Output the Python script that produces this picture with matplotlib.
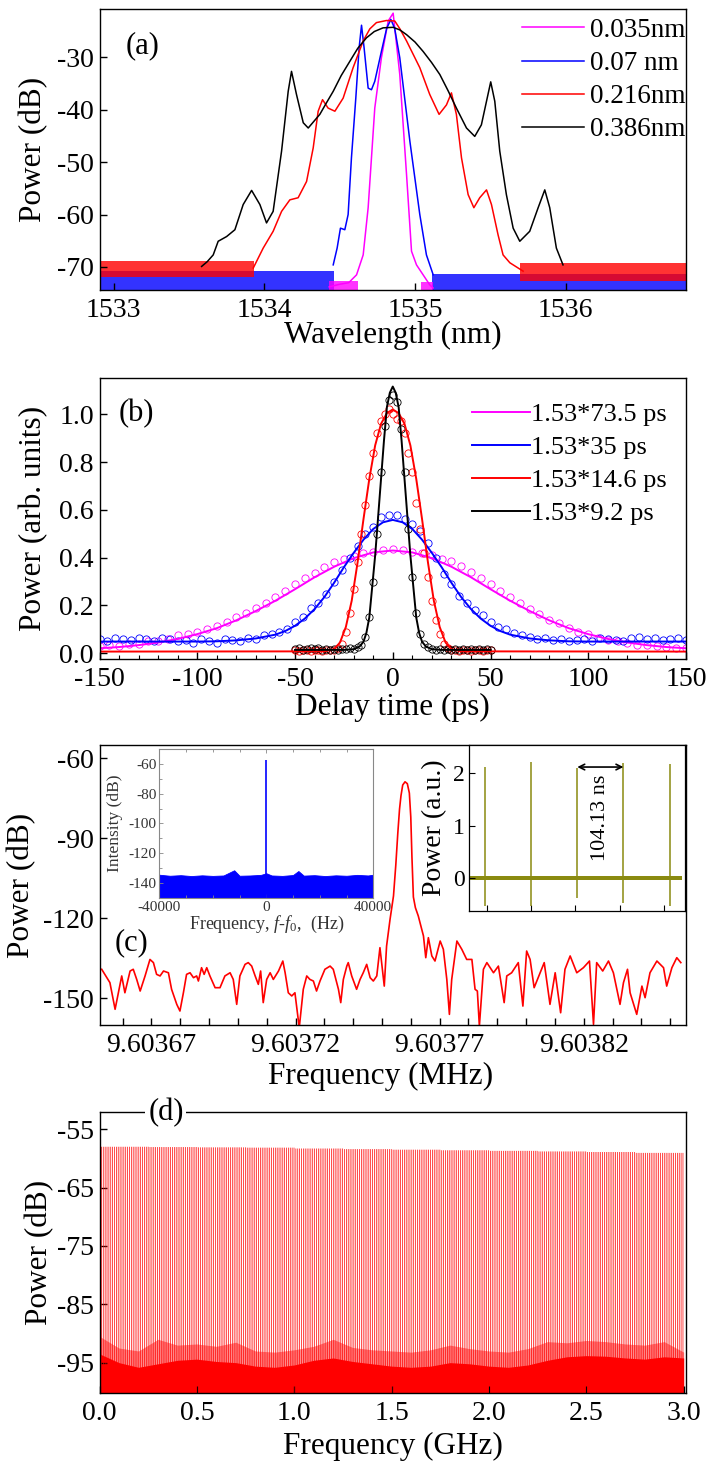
import matplotlib
matplotlib.use("Agg")
import matplotlib.pyplot as plt
import numpy as np
from matplotlib.ticker import FixedLocator, FuncFormatter, MultipleLocator, NullFormatter

plt.rcParams["font.family"] = ["Liberation Serif", "DejaVu Serif"]
plt.rcParams["mathtext.fontset"] = "custom"
plt.rcParams["mathtext.rm"] = "Liberation Serif"
plt.rcParams["mathtext.it"] = "Liberation Serif:italic"
plt.rcParams["axes.linewidth"] = 1.0
plt.rcParams["axes.unicode_minus"] = False

MAG, BLU, RED, BLK, OLIVE = "#ff00ff", "#0000ff", "#ff0000", "#000000", "#8a8a10"

# ---------------- (a) optical spectra ----------------
wl_mag = [1534.43, 1534.50, 1534.56, 1534.612, 1534.656, 1534.689, 1534.733, 1534.777,
          1534.822, 1534.855, 1534.899, 1534.944, 1534.977, 1535.01, 1535.054, 1535.098, 1535.12]
p_mag = [-73.8, -73.3, -73.0, -71.5, -67.7, -58.7, -39.7, -30.1,
         -23.1, -21.6, -33.3, -52.4, -67.0, -69.6, -71.5, -73.4, -74.0]

wl_blue = [1534.457, 1534.483, 1534.505, 1534.534, 1534.556, 1534.578, 1534.607, 1534.629,
           1534.645, 1534.662, 1534.689, 1534.711, 1534.733, 1534.777, 1534.812, 1534.84,
           1534.865, 1534.899, 1534.966, 1535.032, 1535.076, 1535.121]
p_blue = [-69.6, -66.4, -62.6, -62.9, -60.0, -49.2, -37.8, -28.2,
          -23.9, -28.2, -35.9, -36.2, -34.6, -28.9, -24.5, -22.8,
          -24.5, -30.1, -46.0, -60.0, -67.7, -71.5]

wl_red = [1533.926, 1533.992, 1534.058, 1534.114, 1534.169, 1534.224, 1534.28, 1534.324,
          1534.357, 1534.386, 1534.423, 1534.468, 1534.523, 1534.589, 1534.656, 1534.70,
          1534.744, 1534.811, 1534.866, 1534.90, 1534.944, 1535.032, 1535.098, 1535.16,
          1535.209, 1535.242, 1535.275, 1535.309, 1535.353, 1535.391, 1535.43, 1535.475,
          1535.508, 1535.552, 1535.585, 1535.63, 1535.718]
p_red = [-70.2, -66.4, -63.2, -59.4, -57.2, -56.8, -53.7, -47.3,
         -40.3, -38.1, -39.7, -40.3, -37.8, -32.0, -26.9, -24.6,
         -23.4, -23.0, -23.1, -24.6, -26.9, -32.0, -37.1, -40.9,
         -39.1, -36.8, -40.9, -49.2, -56.2, -58.7, -56.8, -55.3,
         -58.1, -63.9, -67.7, -69.2, -70.8]

wl_black = [1533.583, 1533.62, 1533.66, 1533.693, 1533.749, 1533.804, 1533.859, 1533.915,
            1533.97, 1534.014, 1534.058, 1534.114, 1534.158, 1534.18, 1534.213, 1534.258,
            1534.291, 1534.368, 1534.41, 1534.457, 1534.51, 1534.567, 1534.62, 1534.678,
            1534.73, 1534.788, 1534.855, 1534.90, 1534.944, 1535.0, 1535.054, 1535.11,
            1535.165, 1535.22, 1535.275, 1535.342, 1535.397, 1535.441, 1535.475, 1535.503,
            1535.53, 1535.563, 1535.607, 1535.652, 1535.696, 1535.762, 1535.818, 1535.862,
            1535.895, 1535.939, 1535.983]
p_black = [-69.9, -69.0, -67.7, -65.1, -64.2, -62.9, -58.1, -55.4,
           -58.1, -61.6, -59.4, -47.9, -36.5, -32.7, -37.1, -42.5,
           -43.5, -40.9, -38.8, -36.5, -33.5, -30.8, -28.3, -26.3,
           -25.1, -24.4, -24.3, -24.8, -25.7, -27.1, -28.9, -31.0,
           -33.3, -36.4, -39.7, -43.5, -45.1, -42.9, -38.4, -34.7,
           -38.4, -47.9, -56.2, -62.6, -65.1, -63.2, -58.7, -55.3,
           -58.7, -66.4, -69.6]

# noise floors: (start nm, end nm, low dB, high dB)
floor_mag = [(1534.43, 1534.62, -74.4, -72.6), (1535.04, 1535.12, -74.4, -72.8)]
floor_blue = [(1532.905, 1534.46, -74.4, -70.8), (1535.11, 1536.80, -74.4, -71.3)]
floor_red = [(1532.905, 1533.93, -72.0, -68.9), (1535.70, 1536.80, -72.6, -69.2)]

legend_a = ["0.035nm", "0.07 nm", "0.216nm", "0.386nm"]

# ---------------- (b) autocorrelation ----------------
mag_fit_t = [-150, -140, -130, -120, -110, -100, -90, -80, -70, -60, -50, -40, -30, -20, -10, 0,
             10, 20, 30, 40, 50, 60, 70, 80, 90, 100, 110, 120, 130, 140, 150]
mag_fit_v = [0.021, 0.026, 0.034, 0.045, 0.060, 0.080, 0.105, 0.138, 0.177, 0.220, 0.268, 0.318,
             0.362, 0.398, 0.422, 0.430, 0.422, 0.398, 0.362, 0.318, 0.268, 0.220, 0.177, 0.138,
             0.105, 0.080, 0.060, 0.045, 0.034, 0.026, 0.021]
mag_pts = [(-150, .03), (-145, .035), (-140, .03), (-135, .04), (-130, .04), (-125, .05), (-120, .05),
           (-115, .06), (-110, .075), (-105, .08), (-100, .09), (-95, .10), (-90, .115), (-85, .13),
           (-80, .15), (-75, .17), (-70, .19), (-65, .21), (-60, .235), (-55, .26), (-50, .29),
           (-45, .315), (-40, .335), (-35, .36), (-30, .38), (-25, .395), (-20, .405), (-15, .42),
           (-10, .425), (-5, .43), (0, .435), (5, .43), (10, .425), (15, .42), (20, .41), (25, .395),
           (30, .385), (35, .365), (40, .34), (45, .315), (50, .29), (55, .26), (60, .235), (65, .21),
           (70, .185), (75, .165), (80, .14), (85, .125), (90, .105), (95, .09), (100, .08), (105, .065),
           (110, .055), (115, .05), (120, .045), (125, .035), (130, .035), (135, .03), (140, .025),
           (145, .02), (150, .02)]

blue_fit_t = [-150, -120, -100, -90, -80, -70, -60, -55, -50, -45, -40, -35, -30, -25, -20, -15, -10,
              -5, 0, 5, 10, 15, 20, 25, 30, 35, 40, 45, 50, 55, 60, 70, 80, 90, 100, 120, 150]
blue_fit_v = [0.049, 0.049, 0.049, 0.05, 0.054, 0.062, 0.078, 0.093, 0.115, 0.145, 0.185, 0.235,
              0.295, 0.36, 0.42, 0.475, 0.52, 0.548, 0.558, 0.548, 0.52, 0.475, 0.42, 0.36, 0.295,
              0.235, 0.185, 0.145, 0.115, 0.093, 0.078, 0.062, 0.054, 0.05, 0.049, 0.049, 0.049]
blue_pts = [(-150, .06), (-146, .05), (-142, .065), (-138, .06), (-134, .055), (-130, .065), (-126, .06),
            (-122, .05), (-118, .065), (-114, .06), (-110, .05), (-106, .055), (-102, .045), (-98, .06),
            (-94, .05), (-90, .045), (-86, .06), (-82, .055), (-78, .05), (-74, .065), (-70, .06),
            (-66, .075), (-62, .08), (-58, .09), (-54, .10), (-50, .13), (-46, .15), (-42, .19),
            (-38, .21), (-34, .25), (-30, .30), (-26, .35), (-22, .40), (-18, .45), (-14, .50),
            (-10, .53), (-6, .57), (-2, .58), (2, .58), (6, .56), (10, .54), (14, .51), (18, .46),
            (22, .40), (26, .33), (30, .29), (34, .24), (38, .21), (42, .18), (46, .16), (50, .13),
            (54, .11), (58, .10), (62, .085), (66, .075), (70, .07), (74, .06), (78, .065), (82, .055),
            (86, .06), (90, .05), (94, .055), (98, .06), (102, .05), (106, .065), (110, .06),
            (114, .055), (118, .05), (122, .065), (126, .07), (130, .06), (134, .065), (138, .055),
            (142, .06), (146, .065), (150, .055)]

red_fit_t = [-150, -35, -30, -27, -24, -21, -18, -15, -12, -9, -6, -3, 0,
             3, 6, 9, 12, 15, 18, 21, 24, 27, 30, 35, 150]
red_fit_v = [0.007, 0.008, 0.017, 0.045, 0.11, 0.22, 0.38, 0.56, 0.73, 0.87, 0.96, 1.005, 1.02,
             1.005, 0.96, 0.87, 0.73, 0.56, 0.38, 0.22, 0.11, 0.045, 0.017, 0.008, 0.007]
red_pts = [(-50, .012), (-48, .01), (-46, .014), (-44, .012), (-42, .01), (-40, .013), (-38, .012),
           (-36, .01), (-34, .014), (-32, .012), (-30, .015), (-28, .02), (-26, .04), (-24, .09),
           (-22, .17), (-20, .27), (-18, .38), (-16, .50), (-14, .62), (-12, .74), (-10, .84),
           (-8, .92), (-6, .97), (-4, 1.0), (-2, 1.02), (0, 1.0), (2, .98), (4, .97), (6, .92),
           (8, .84), (10, .76), (12, .63), (14, .52), (16, .42), (18, .32), (20, .22), (22, .14),
           (24, .08), (26, .04), (28, .02), (30, .014), (32, .012), (34, .01), (36, .013), (38, .012),
           (40, .01), (42, .014), (44, .012), (46, .01), (48, .013), (50, .012)]

black_fit_t = [-50, -25, -20, -17, -15, -13.5, -12, -10.5, -9, -7.5, -6, -4.5, -3, -1.5, 0,
               1.5, 3, 4.5, 6, 7.5, 9, 10.5, 12, 13.5, 15, 17, 20, 25, 50]
black_fit_v = [0.014, 0.014, 0.017, 0.028, 0.048, 0.085, 0.15, 0.28, 0.41, 0.57, 0.73, 0.89, 1.03,
               1.09, 1.116, 1.09, 1.03, 0.89, 0.73, 0.57, 0.41, 0.28, 0.15, 0.085, 0.048, 0.028,
               0.017, 0.014, 0.014]
black_pts = [(-50, .016), (-48, .02), (-46, .015), (-44, .018), (-42, .022), (-40, .016), (-38, .02),
             (-36, .015), (-34, .018), (-32, .014), (-30, .017), (-28, .015), (-26, .018), (-24, .016),
             (-22, .02), (-20, .018), (-18, .025), (-16, .035), (-14, .07), (-12, .15), (-10, .30),
             (-8, .50), (-6, .76), (-4, .95), (-2, 1.06), (0, 1.08), (2, 1.05), (4, .94), (6, .76),
             (8, .52), (10, .32), (12, .17), (14, .08), (16, .04), (18, .025), (20, .018), (22, .015),
             (24, .017), (26, .014), (28, .018), (30, .015), (32, .016), (34, .014), (36, .017),
             (38, .015), (40, .016), (42, .014), (44, .017), (46, .015), (48, .016), (50, .014)]

legend_b = ["1.53*73.5 ps", "1.53*35 ps", "1.53*14.6 ps", "1.53*9.2 ps"]

# ---------------- (c) RF spectrum, offsets in Hz above 9.6036 MHz ----------------
rf_trace = [(52.75, -139.1), (55.6, -144.1), (57.4, -154.1), (59.7, -141.6), (60.8, -147.9),
            (62.6, -139.75), (63.7, -139.1), (64.9, -142.9), (66.1, -147.25), (67.8, -141.6),
            (69.5, -135.4), (70.7, -136.6), (71.8, -141.0), (73.0, -141.6), (74.2, -139.75),
            (75.9, -140.4), (77.0, -146.6), (78.8, -152.25), (79.9, -154.75), (81.1, -147.9),
            (82.2, -141.0), (83.4, -140.4), (84.6, -142.25), (85.7, -141.6), (86.3, -143.5),
            (87.4, -138.5), (88.3, -141.0), (89.2, -138.5), (90.3, -141.6), (92.1, -146.0),
            (93.8, -146.0), (95.5, -141.6), (97.3, -140.4), (98.4, -142.9), (99.6, -152.25),
            (100.7, -141.6), (102.5, -137.25), (103.6, -136.6), (104.8, -137.9), (106.0, -141.6),
            (107.1, -144.75), (107.9, -139.75), (108.8, -151.6), (110.0, -142.9), (111.2, -140.4),
            (112.3, -142.9), (114.1, -139.75), (115.6, -136.0), (116.4, -140.4), (117.5, -147.9),
            (118.7, -149.1), (119.8, -147.9), (121.3, -161.0), (122.7, -146.6), (123.9, -141.6),
            (125.0, -142.9), (126.2, -143.5), (127.3, -147.25), (128.5, -143.5), (130.2, -139.1),
            (132.0, -137.9), (133.1, -139.1), (134.9, -146.6), (135.7, -151.6), (136.6, -142.9),
            (137.8, -137.9), (138.3, -136.6), (139.5, -141.6), (141.2, -146.6), (142.4, -142.9),
            (143.5, -140.4), (144.7, -137.25), (145.9, -142.25), (147.0, -143.5), (148.2, -141.6),
            (149.3, -131.0), (150.8, -145.4), (151.6, -130.4), (152.8, -120.4), (154.0, -111.6),
            (154.8, -100.0), (155.5, -88.0), (156.1, -79.0), (156.6, -74.0), (157.2, -70.0),
            (158.0, -68.8), (158.8, -69.5), (159.5, -73.0), (160.0, -82.0), (160.4, -97.0),
            (160.9, -112.0), (161.6, -116.0), (162.6, -119.1), (164.4, -126.6), (165.2, -134.75),
            (166.1, -127.25), (167.3, -134.1), (168.4, -136.0), (170.2, -128.5), (171.3, -131.6),
            (172.5, -142.9), (173.4, -156.0), (174.2, -142.9), (176.0, -128.5), (177.7, -131.6),
            (179.4, -135.4), (181.2, -135.4), (182.3, -146.6), (183.1, -147.25), (183.8, -160.4),
            (185.2, -139.1), (186.4, -136.6), (188.7, -140.4), (190.4, -137.9), (192.4, -151.6),
            (193.3, -141.6), (195.0, -140.4), (197.3, -136.6), (198.9, -152.9), (200.2, -132.25),
            (201.4, -135.4), (202.8, -146.0), (204.9, -140.4), (206.3, -136.6), (208.3, -152.25),
            (210.1, -140.4), (212.0, -155.4), (213.5, -139.1), (215.3, -134.1), (217.6, -140.4),
            (219.9, -138.5), (222.0, -136.0), (223.4, -159.75), (224.5, -136.6), (226.6, -139.75),
            (228.6, -136.0), (230.3, -140.4), (232.6, -152.25), (233.8, -144.1), (235.2, -139.1),
            (236.1, -147.9), (238.4, -156.0), (240.2, -145.4), (241.3, -149.75), (243.0, -140.4),
            (245.4, -136.0), (247.7, -138.5), (248.8, -145.4), (250.6, -138.5), (252.3, -134.75),
            (253.7, -136.6)]
rf_base_mhz = 9.6036
rf_ticks = [9.60367, 9.60372, 9.60377, 9.60382]

# inset: beat note
ins_f = [-40000, -36000, -32000, -28000, -24000, -20000, -16000, -12000, -10000, -6000, -2000, 0,
         2000, 6000, 10000, 12000, 14000, 18000, 22000, 26000, 30000, 34000, 38000, 40000]
ins_floor = [-134.5, -135.2, -134.8, -135.4, -134.9, -135.3, -135.0, -131.5, -135.2, -135.0, -134.6,
             -133.5, -135.0, -135.3, -134.7, -132.0, -135.1, -134.8, -135.4, -134.9, -135.2, -134.6,
             -135.0, -134.5]
ins_peak = -57.5

# inset: pulse train (ns, a.u.)
pulse_t = [-3.8, 100.3, 204.4, 308.6, 412.7]
pulse_peak = [2.13, 2.22, 2.10, 2.20, 2.18]
pulse_dip = [-0.53, -0.53, -0.38, -0.48, -0.53]

# ---------------- (d) wide RF comb ----------------
frep_ghz = 0.00960377
comb_top_step = 0.25
comb_top = [-58.0, -58.05, -58.1, -58.15, -58.3, -58.4, -58.5, -58.6, -58.7, -58.8, -58.9, -59.05, -59.2]
noise_ghz = [0.0, 0.1, 0.2, 0.3, 0.4, 0.5, 0.6, 0.7, 0.8, 0.9, 1.0, 1.1, 1.2, 1.3, 1.4, 1.5,
             1.6, 1.7, 1.8, 1.9, 2.0, 2.1, 2.2, 2.3, 2.4, 2.5, 2.6, 2.7, 2.8, 2.9, 3.0]
noise_top = [-93.5, -95.0, -95.8, -95.2, -94.6, -94.4, -94.8, -95.0, -95.6, -95.8, -95.4, -94.6,
             -94.2, -94.8, -95.2, -95.6, -95.8, -95.6, -95.0, -95.2, -95.6, -95.8, -95.4, -94.6,
             -94.0, -93.8, -93.9, -94.2, -94.4, -94.0, -94.2]
noise_spike = [-90.5, -92.5, -93.0, -91.0, -92.0, -91.8, -92.2, -91.5, -93.0, -93.2, -92.8, -92.2,
               -91.0, -92.4, -92.8, -93.0, -93.2, -92.8, -92.0, -92.6, -93.0, -93.2, -92.6, -91.4,
               -91.6, -91.2, -91.4, -91.8, -92.0, -91.4, -93.2]

TICK = 20
LABEL = 22.5


def style(ax):
    ax.tick_params(direction="in", length=5, width=1.0, labelsize=TICK, top=False, right=False)
    ax.tick_params(axis="y", pad=4)
    ax.tick_params(axis="x", pad=6)


fig = plt.figure(figsize=(7.14, 14.7), dpi=100)

# ---- (a)
ax = fig.add_axes([0.1394, 0.8027, 0.8214, 0.1912])
for bands, col in ((floor_blue, BLU), (floor_red, RED), (floor_mag, MAG)):
    for x0, x1, lo, hi in bands:
        ax.fill_between([x0, x1], lo, hi, color=col, alpha=0.8, lw=0)
ax.plot(wl_mag, p_mag, color=MAG, lw=1.1, label=legend_a[0])
ax.plot(wl_blue, p_blue, color=BLU, lw=1.1, label=legend_a[1])
ax.plot(wl_red, p_red, color=RED, lw=1.1, label=legend_a[2])
ax.plot(wl_black, p_black, color=BLK, lw=1.1, label=legend_a[3])
ax.set_xlim(1532.905, 1536.80)
ax.set_ylim(-74.4, -20.8)
ax.set_xticks([1533, 1534, 1535, 1536])
ax.set_yticks([-70, -60, -50, -40, -30])
style(ax)
ax.set_xlabel("Wavelength (nm)", fontsize=LABEL)
ax.set_ylabel("Power (dB)", fontsize=LABEL)
ax.xaxis.set_label_coords(0.5, -0.11)
ax.yaxis.set_label_coords(-0.088, 0.5)
ax.text(0.045, 0.87, "(a)", transform=ax.transAxes, fontsize=22, va="center")
ax.legend(loc="upper left", bbox_to_anchor=(0.72, 0.968), frameon=False, fontsize=19.5,
          handlelength=2.3, handletextpad=0.22, labelspacing=0.3, borderpad=0, borderaxespad=0)

# ---- (b)
ax = fig.add_axes([0.1394, 0.5517, 0.8214, 0.1912])
for pts, col in ((mag_pts, MAG), (blue_pts, BLU), (red_pts, RED), (black_pts, BLK)):
    t, v = zip(*pts)
    ax.plot(t, v, ls="none", marker="o", mfc="none", mec=col, ms=5.2, mew=0.6)
ax.plot(mag_fit_t, mag_fit_v, color=MAG, lw=1.4, label=legend_b[0])
ax.plot(blue_fit_t, blue_fit_v, color=BLU, lw=1.4, label=legend_b[1])
ax.plot(red_fit_t, red_fit_v, color=RED, lw=1.4, label=legend_b[2])
ax.plot(black_fit_t, black_fit_v, color=BLK, lw=1.4, label=legend_b[3])
ax.set_xlim(-150, 150)
ax.set_ylim(-0.024, 1.152)
ax.set_xticks(np.arange(-150, 151, 50))
ax.xaxis.set_minor_locator(MultipleLocator(10))
ax.set_yticks([0.0, 0.2, 0.4, 0.6, 0.8, 1.0])
ax.yaxis.set_major_formatter(FuncFormatter(lambda v, p: f"{v:.1f}"))
style(ax)
ax.tick_params(which="minor", direction="in", length=3, width=0.8, top=False)
ax.set_xlabel("Delay time (ps)", fontsize=LABEL)
ax.set_ylabel("Power (arb. units)", fontsize=LABEL)
ax.xaxis.set_label_coords(0.5, -0.12)
ax.yaxis.set_label_coords(-0.088, 0.5)
ax.text(0.032, 0.874, "(b)", transform=ax.transAxes, fontsize=22, va="center")
ax.legend(loc="upper left", bbox_to_anchor=(0.635, 0.912), frameon=False, fontsize=19,
          handlelength=2.2, handletextpad=0.05, labelspacing=0.36, borderpad=0, borderaxespad=0)

# ---- (c)
ax = fig.add_axes([0.1394, 0.3027, 0.8214, 0.1905])
off, rf_db = zip(*rf_trace)
rf_mhz = [rf_base_mhz + o * 1e-6 for o in off]
ax.plot(rf_mhz, rf_db, color=RED, lw=1.2, solid_joinstyle="round")
ax.set_xlim(rf_base_mhz + 52e-6, rf_base_mhz + 255.5e-6)
ax.set_ylim(-160, -55)
ax.xaxis.set_major_locator(FixedLocator(rf_ticks))
ax.xaxis.set_minor_locator(FixedLocator([rf_base_mhz + k * 1e-5 for k in range(6, 26)]))
ax.xaxis.set_major_formatter(FuncFormatter(lambda v, p: f"{v:.5f}"))
ax.set_yticks([-150, -120, -90, -60])
style(ax)
ax.tick_params(which="minor", direction="in", length=5, width=1.0, top=False)
ax.set_xlabel("Frequency (MHz)", fontsize=LABEL)
ax.set_ylabel("Power (dB)", fontsize=LABEL)
ax.xaxis.set_label_coords(0.48, -0.13)
ax.yaxis.set_label_coords(-0.108, 0.5)
ax.text(0.026, 0.293, "(c)", transform=ax.transAxes, fontsize=22, va="center")

# inset: beat note
axi = fig.add_axes([0.2231, 0.3893, 0.2997, 0.101])
axi.fill_between(ins_f, -150, ins_floor, color=BLU, lw=0.6, edgecolor=BLU)
axi.vlines([0], -150, ins_peak, color=BLU, lw=1.2)
axi.set_xlim(-40000, 40000)
axi.set_ylim(-150, -50)
axi.set_xticks([-40000, 0, 40000])
axi.xaxis.set_minor_locator(MultipleLocator(10000))
axi.set_yticks([-140, -120, -100, -80, -60])
axi.yaxis.set_minor_locator(MultipleLocator(10))
for s in axi.spines.values():
    s.set_color("#888888")
    s.set_linewidth(0.8)
axi.tick_params(which="both", direction="in", colors="#888888", labelcolor="#333333",
                labelsize=11, length=3, width=0.6, top=True, pad=2)
axi.tick_params(which="minor", length=2)
axi.set_ylabel("Intensity (dB)", fontsize=12.5, color="#333333")
axi.set_xlabel(r"Frequency, $f$-$f_{0}$,  (Hz)", fontsize=13, color="#333333")
axi.yaxis.set_label_coords(-0.17, 0.5)
axi.xaxis.set_label_coords(0.5, -0.11)

# inset: pulse train
axp = fig.add_axes([0.6569, 0.3805, 0.3025, 0.1127])
axp.fill_between([pulse_t[0] - 34, pulse_t[-1] + 28], -0.035, 0.035, color=OLIVE, lw=0)
axp.vlines(pulse_t, pulse_dip, pulse_peak, color=OLIVE, lw=1.1)
axp.set_xlim(-40, 447.6)
axp.set_ylim(-0.617, 2.54)
axp.set_xticks([0, 100, 200, 300, 400])
axp.xaxis.set_major_formatter(NullFormatter())
axp.set_yticks([0, 1, 2])
axp.tick_params(direction="in", length=4, width=0.8, labelsize=17, pad=3)
for s in axp.spines.values():
    s.set_linewidth(0.9)
axp.set_ylabel("Power (a.u.)", fontsize=20)
axp.yaxis.set_label_coords(-0.1, 0.5)
axp.annotate("", xy=(pulse_t[3], 2.12), xytext=(pulse_t[2], 2.12),
             arrowprops=dict(arrowstyle="<->", color="black", lw=1.2, shrinkA=0, shrinkB=0))
axp.text((pulse_t[2] + pulse_t[3]) / 2, 1.16, "104.13 ns", rotation=90, fontsize=16,
         ha="center", va="center")

# ---- (d)
ax = fig.add_axes([0.1394, 0.0526, 0.8214, 0.1907])
ax.fill_between(noise_ghz, -101, noise_spike, color=RED, alpha=0.45, lw=0)
ax.fill_between(noise_ghz, -101, noise_top, color=RED, lw=0)
comb_f = np.arange(1, 313) * frep_ghz
seg = np.minimum((comb_f / comb_top_step).astype(int), len(comb_top) - 1)
ax.vlines(comb_f, -101, np.array(comb_top)[seg], color=RED, lw=0.5, snap=False)
ax.set_xlim(0, 3.012)
ax.set_ylim(-100.15, -52.1)
ax.set_xticks([0.0, 0.5, 1.0, 1.5, 2.0, 2.5, 3.0])
ax.xaxis.set_major_formatter(FuncFormatter(lambda v, p: f"{v:.1f}"))
ax.set_yticks([-95, -85, -75, -65, -55])
style(ax)
ax.set_xlabel("Frequency (GHz)", fontsize=LABEL)
ax.set_ylabel("Power (dB)", fontsize=LABEL)
ax.xaxis.set_label_coords(0.5, -0.14)
ax.yaxis.set_label_coords(-0.077, 0.5)
ax.text(0.083, 1.0, "(d)", transform=ax.transAxes, fontsize=22, va="center", ha="left",
        bbox=dict(facecolor="white", edgecolor="none", pad=2), clip_on=False, zorder=10)

fig.savefig("out.png", dpi=100)
